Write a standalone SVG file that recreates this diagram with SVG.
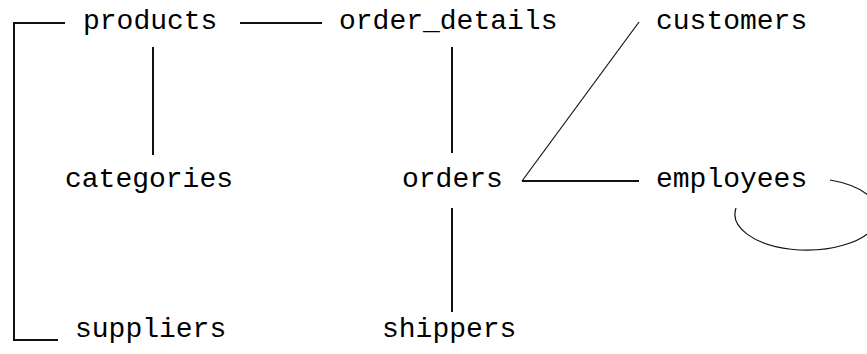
<svg xmlns="http://www.w3.org/2000/svg" width="867" height="354" viewBox="0 0 867 354">
<style>
.t{font-family:"Liberation Mono","DejaVu Sans Mono",monospace;font-size:28px;fill:#000}
.c{stroke:#111;stroke-width:2;fill:none}
.thin{stroke:#111;stroke-width:1.2;fill:none}
</style>
<rect width="867" height="354" fill="#fff"/>
<g id="connectors">
<path class="c" d="M65 23 H14 V340 H58"/>
<path class="c" d="M240 23 H322"/>
<path class="c" d="M153 47 V155"/>
<path class="c" d="M452 47 V153"/>
<path class="c" d="M452 208 V312"/>
<path class="c" d="M522 181 H639"/>
<path class="thin" d="M522 181 L639 22"/>
<path class="thin" d="M830 180 A72 36 0 1 1 736 208"/>
</g>
<g id="products"><text class="t" x="83" y="29">products</text></g>
<g id="order_details"><text class="t" x="339" y="29">order_details</text></g>
<g id="customers"><text class="t" x="656" y="29">customers</text></g>
<g id="categories"><text class="t" x="65" y="187">categories</text></g>
<g id="orders"><text class="t" x="402" y="187">orders</text></g>
<g id="employees"><text class="t" x="656" y="187">employees</text></g>
<g id="suppliers"><text class="t" x="75" y="337">suppliers</text></g>
<g id="shippers"><text class="t" x="382" y="337">shippers</text></g>
</svg>
